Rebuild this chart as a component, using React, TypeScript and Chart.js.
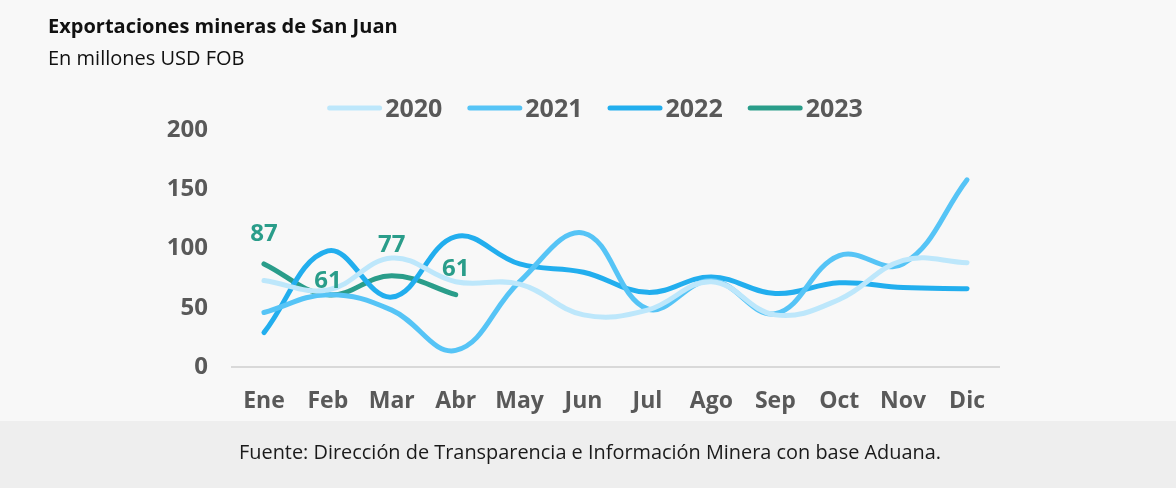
import React, { useEffect, useRef } from "react";
import { Chart, registerables } from "chart.js";

Chart.register(...registerables);

const months = ["Ene", "Feb", "Mar", "Abr", "May", "Jun", "Jul", "Ago", "Sep", "Oct", "Nov", "Dic"];
const seriesNames = ["2020", "2021", "2022", "2023"];
const values2020 = [73, 65, 92, 72, 70, 44, 48, 72, 44, 57, 90, 88];
const values2021 = [46, 61, 48, 14, 72, 113, 49, 73, 45, 94, 87, 158];
const values2022 = [29, 98, 59, 110, 87, 80, 63, 76, 62, 71, 67, 66];
const values2023 = [87, 61, 77, 61];
const yTickValues = [0, 50, 100, 150, 200];

const titleText = "Exportaciones mineras de San Juan";
const subtitleText = "En millones USD FOB";
const sourceText = "Fuente: Dirección de Transparencia e Información Minera con base Aduana.";

// styles
const FONT = "'Open Sans', 'Noto Sans', sans-serif";
const colors = ["#bde7fb", "#56c4f6", "#22aeee", "#2a9d8a"];
const labelLift = [32, 15, 32, 27];
const TICK_COLOR = "#595959";

const decorPlugin = {
  id: "decor",
  beforeDraw(chart: any) {
    const { ctx, width, height } = chart;
    ctx.save();
    ctx.fillStyle = "#f8f8f8";
    ctx.fillRect(0, 0, width, height);
    ctx.fillStyle = "#eeeeee";
    ctx.fillRect(0, 421, width, height - 421);
    ctx.restore();
  },
  afterDraw(chart: any) {
    const { ctx } = chart;
    ctx.save();
    // title & subtitle
    ctx.textAlign = "left";
    ctx.textBaseline = "alphabetic";
    ctx.fillStyle = "#111111";
    ctx.font = `bold 20px ${FONT}`;
    ctx.fillText(titleText, 48, 33);
    ctx.font = `20px ${FONT}`;
    ctx.fillText(subtitleText, 48, 65);

    // legend
    ctx.font = `bold 25px ${FONT}`;
    const sw = 55;
    const gap = 3;
    const itemGap = 25;
    const widths = seriesNames.map((n) => ctx.measureText(n).width);
    const total = widths.reduce((a, w) => a + sw + gap + w, 0) + itemGap * (seriesNames.length - 1);
    let x = 595 - total / 2;
    const ly = 108;
    seriesNames.forEach((n, i) => {
      ctx.strokeStyle = colors[i];
      ctx.lineWidth = 5;
      ctx.lineCap = "round";
      ctx.beginPath();
      ctx.moveTo(x + 2.5, ly);
      ctx.lineTo(x + sw - 2.5, ly);
      ctx.stroke();
      ctx.fillStyle = TICK_COLOR;
      ctx.textBaseline = "alphabetic";
      ctx.fillText(n, x + sw + gap, 117);
      x += sw + gap + widths[i] + itemGap;
    });

    // data labels for 2023
    const meta = chart.getDatasetMeta(3);
    ctx.font = `bold 24px ${FONT}`;
    ctx.fillStyle = colors[3];
    ctx.textAlign = "center";
    ctx.textBaseline = "alphabetic";
    meta.data.forEach((pt: any, i: number) => {
      const v = values2023[i];
      ctx.fillText(String(v), pt.x, pt.y - labelLift[i] + 8.6);
    });

    // footer
    ctx.font = `20px ${FONT}`;
    ctx.fillStyle = "#1a1a1a";
    ctx.textAlign = "left";
    ctx.textBaseline = "middle";
    const fw = ctx.measureText(sourceText).width;
    const target = 702;
    ctx.translate(239, 453);
    ctx.scale(target / fw, 1);
    ctx.fillText(sourceText, 0, 0);
    ctx.restore();
  },
};

export default function App() {
  const ref = useRef<HTMLCanvasElement>(null);

  useEffect(() => {
    document.body.style.margin = "0";
    const series = [values2020, values2021, values2022, values2023];
    const chart = new Chart(ref.current as HTMLCanvasElement, {
      type: "line",
      data: {
        labels: months,
        datasets: series.map((vals, i) => ({
          label: seriesNames[i],
          data: vals,
          borderColor: colors[i],
          backgroundColor: colors[i],
          borderWidth: 5,
          borderCapStyle: "round",
          borderJoinStyle: "round",
          pointRadius: 0,
          pointHoverRadius: 0,
          tension: 0.4,
          fill: false,
          clip: false,
        })),
      },
      options: {
        responsive: false,
        maintainAspectRatio: false,
        animation: false,
        events: [],
        layout: { padding: { top: 130, right: 177, bottom: 0, left: 0 } },
        plugins: {
          legend: { display: false },
          title: { display: false },
          tooltip: { enabled: false },
        },
        scales: {
          x: {
            type: "category",
            offset: true,
            grid: { display: false, drawTicks: false },
            border: { display: true, color: "#d9d9d9", width: 2 },
            ticks: {
              autoSkip: false,
              maxRotation: 0,
              minRotation: 0,
              padding: 21,
              color: TICK_COLOR,
              font: { family: FONT, size: 23, weight: "bold" },
            },
            afterFit: (s: any) => {
              s.height = 488 - 367;
            },
          },
          y: {
            min: 0,
            max: 200,
            grid: { display: false, drawTicks: false },
            border: { display: false },
            afterBuildTicks: (s: any) => {
              s.ticks = yTickValues.map((v) => ({ value: v }));
            },
            ticks: {
              padding: 24,
              color: TICK_COLOR,
              font: { family: FONT, size: 24, weight: "bold" },
            },
            afterFit: (s: any) => {
              s.width = 232;
            },
          },
        },
      },
      plugins: [decorPlugin],
    } as any);
    return () => chart.destroy();
  }, []);

  return (
    <div style={{ position: "absolute", left: 0, top: 0, width: 1176, height: 488 }}>
      <canvas ref={ref} width={1176} height={488} style={{ display: "block", width: 1176, height: 488 }} />
    </div>
  );
}
